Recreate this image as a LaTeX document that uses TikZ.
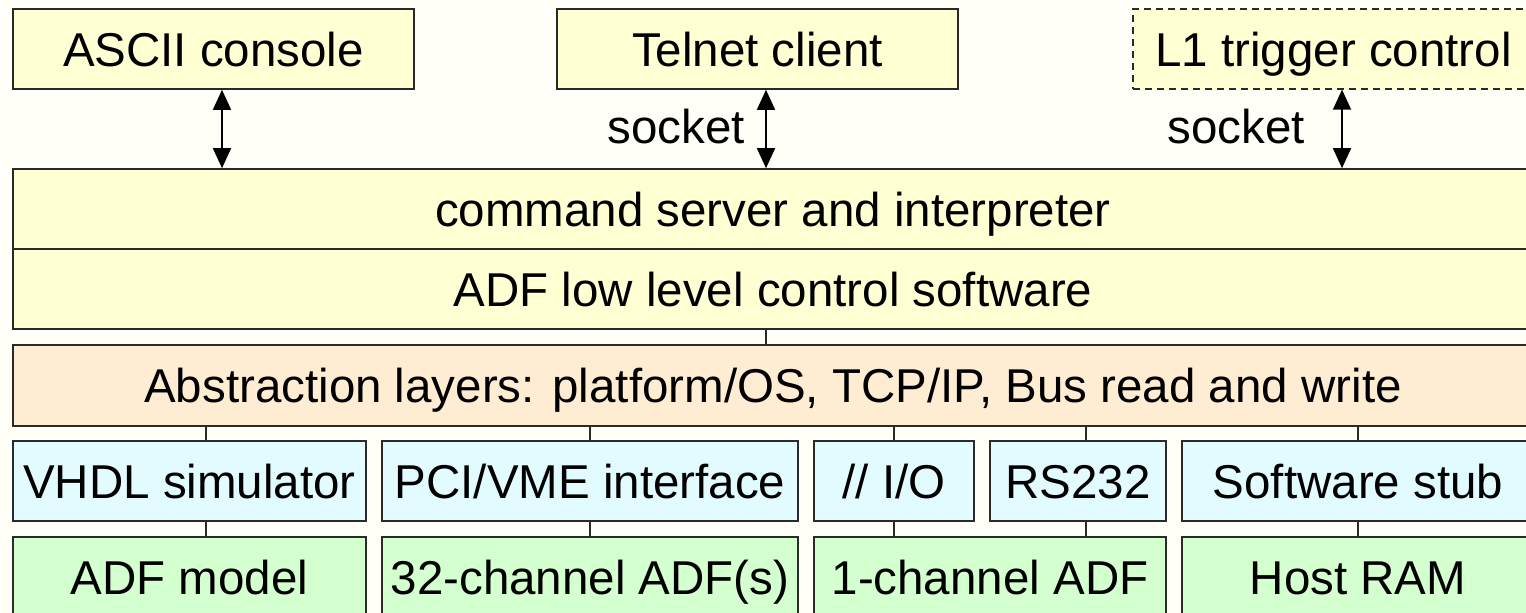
\documentclass[tikz,border=0pt]{standalone}
\usepackage{fontspec}
\setmainfont{Liberation Sans}
\usetikzlibrary{arrows.meta}

\definecolor{paper}{HTML}{FFFFF7}
\definecolor{edge}{HTML}{2A2A2A}
\definecolor{appyellow}{HTML}{FFFFD4}
\definecolor{abspeach}{HTML}{FFEDD3}
\definecolor{ifblue}{HTML}{E1FBFF}
\definecolor{hwgreen}{HTML}{D4FFCE}

\newcommand\layerfont{\fontsize{47.5}{57}\selectfont}

\tikzset{
  layerbox/.style={draw=edge, line width=1.6pt, inner sep=0pt,
    minimum height=80pt, text height=34pt, text depth=0pt, font=\layerfont},
  appbox/.style={layerbox, fill=appyellow},
  absbox/.style={layerbox, fill=abspeach, minimum height=81pt},
  ifbox/.style={layerbox, fill=ifblue},
  hwbox/.style={layerbox, fill=hwgreen},
  dashbox/.style={appbox, dashed, dash pattern=on 7pt off 5pt, line width=1.3pt},
  link/.style={draw=edge, line width=1.4pt},
  dbl/.style={draw=black, line width=1.6pt,
    {Triangle[length=20pt,width=18pt]}-{Triangle[length=20pt,width=18pt]}},
  lbl/.style={font=\layerfont, inner sep=0pt, anchor=base east},
}

\begin{document}
\begin{tikzpicture}[x=1pt, y=-1pt]
  \useasboundingbox (0,0) rectangle (1526,613);
  \fill[paper] (0,0) rectangle (1526,613);
  \clip (0,0) rectangle (1526,613);

  % client side
  \node[appbox, minimum width=401pt] (ascii) at (213.5,49) {ASCII console};
  \node[appbox, minimum width=401pt] (telnet) at (757.5,49) {Telnet client};
  \node[dashbox, minimum width=401pt] (l1) at (1333.5,49) {L1 trigger control};

  % software layers
  \node[appbox, minimum width=1520pt] (cmd) at (773,209) {command server and interpreter};
  \node[appbox, minimum width=1520pt] (lowlvl) at (773,289) {ADF low level control software};
  \node[absbox, minimum width=1520pt] (abs) at (773,385.5)
    {Abstraction layers: platform/OS, TCP/IP, Bus read and write};

  % interfaces
  \node[ifbox, minimum width=353pt] (vhdl) at (189.5,481) {VHDL simulator};
  \node[ifbox, minimum width=416pt] (pci) at (590,481) {PCI/VME interface};
  \node[ifbox, minimum width=160pt] (pio) at (894,481) {// I/O};
  \node[ifbox, minimum width=176pt] (rs) at (1078,481) {RS232};
  \node[ifbox, minimum width=352pt] (stub) at (1358,481) {Software stub};

  % hardware / targets
  \node[hwbox, minimum width=353pt] (model) at (189.5,577) {ADF model};
  \node[hwbox, minimum width=416pt] (adf32) at (590,577) {32-channel ADF(s)};
  \node[hwbox, minimum width=352pt] (adf1) at (990,577) {1-channel ADF};
  \node[hwbox, minimum width=352pt] (ram) at (1358,577) {Host RAM};

  % client connections
  \draw[dbl] ([xshift=8.5pt]ascii.south) -- ([xshift=8.5pt]ascii.south |- cmd.north);
  \draw[dbl] ([xshift=8.5pt]telnet.south) -- ([xshift=8.5pt]telnet.south |- cmd.north);
  \draw[dbl] ([xshift=8.5pt]l1.south) -- ([xshift=8.5pt]l1.south |- cmd.north);
  \node[lbl] (sockA) at (745,143) {socket};
  \node[lbl] (sockB) at (1305,143) {socket};

  % layer links
  \draw[link] ([xshift=-7pt]lowlvl.south) -- ([xshift=-7pt]lowlvl.south |- abs.north);
  \draw[link] ([xshift=16.5pt]vhdl.north) -- ([xshift=16.5pt]vhdl.north |- abs.south);
  \draw[link] (pci.north) -- (pci.north |- abs.south);
  \draw[link] (pio.north) -- (pio.north |- abs.south);
  \draw[link] ([xshift=8pt]rs.north) -- ([xshift=8pt]rs.north |- abs.south);
  \draw[link] (stub.north) -- (stub.north |- abs.south);

  \draw[link] ([xshift=16.5pt]vhdl.south) -- ([xshift=16.5pt]vhdl.south |- model.north);
  \draw[link] (pci.south) -- (pci.south |- adf32.north);
  \draw[link] (pio.south) -- (pio.south |- adf1.north);
  \draw[link] ([xshift=8pt]rs.south) -- ([xshift=8pt]rs.south |- adf1.north);
  \draw[link] (stub.south) -- (stub.south |- ram.north);
\end{tikzpicture}
\end{document}
